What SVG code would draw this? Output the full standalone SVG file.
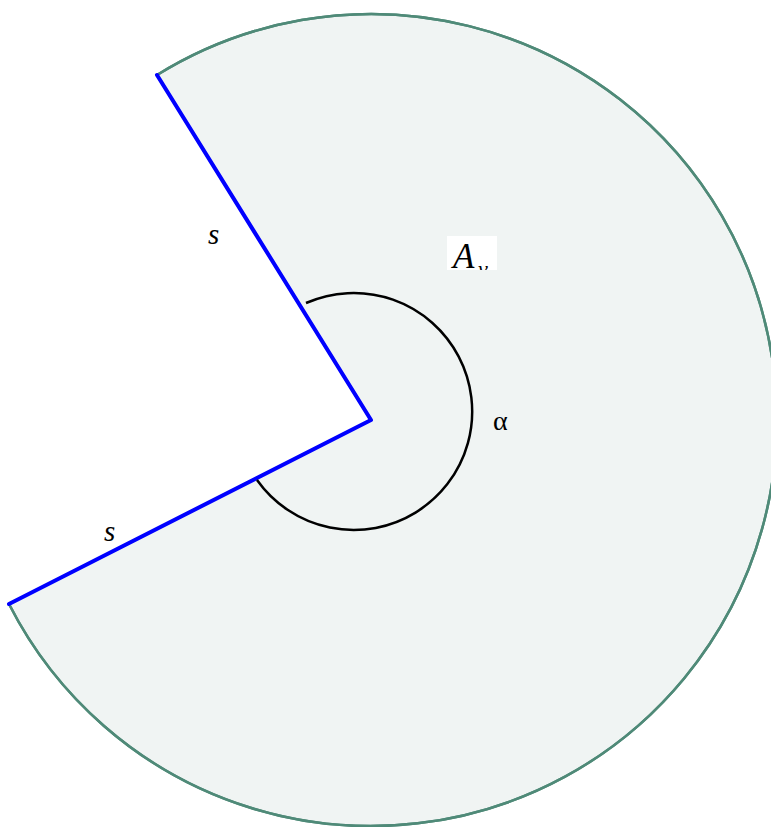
<svg xmlns="http://www.w3.org/2000/svg" width="771" height="827" viewBox="0 0 771 827">
<style>
.lbl{font-family:"Liberation Serif","DejaVu Serif",serif;font-style:italic;fill:#000}
.sector{fill:#f0f4f3;stroke:#4f8a78;stroke-width:2.5}
.edge{stroke:#0000ff;stroke-width:4;fill:none;stroke-linecap:round;stroke-linejoin:round}
.angle{stroke:#000;stroke-width:2.5;fill:none}
</style>
<defs><clipPath id="avclip"><rect x="447" y="236" width="50" height="34"/></clipPath></defs>
<rect width="771" height="827" fill="#fff"/>
<g id="sector">
<path class="sector" d="M371,420 L157,75 A406,406 0 1 1 9,604 Z" stroke="none"/>
<path class="sector" d="M157,75 A406,406 0 1 1 9,604" style="fill:none"/>
</g>
<g id="connectors">
<path class="edge" d="M157,75 L371,420 L9,604"/>
<path class="angle" d="M306,303 A118.5,118.5 0 1 1 257,480"/>
</g>
<g id="labels">
<text class="lbl" x="208" y="244" font-size="29">s</text>
<text class="lbl" x="104" y="541" font-size="29">s</text>
<text x="493" y="430" font-size="28" font-family="Liberation Serif,DejaVu Serif,serif">α</text>
<g id="Av">
<rect x="447" y="236" width="50" height="34" fill="#fff"/>
<g clip-path="url(#avclip)">
<text class="lbl" x="453" y="268" font-size="35">A</text>
<text class="lbl" x="478" y="276" font-size="22">v</text>
</g>
</g>
</g>
</svg>
